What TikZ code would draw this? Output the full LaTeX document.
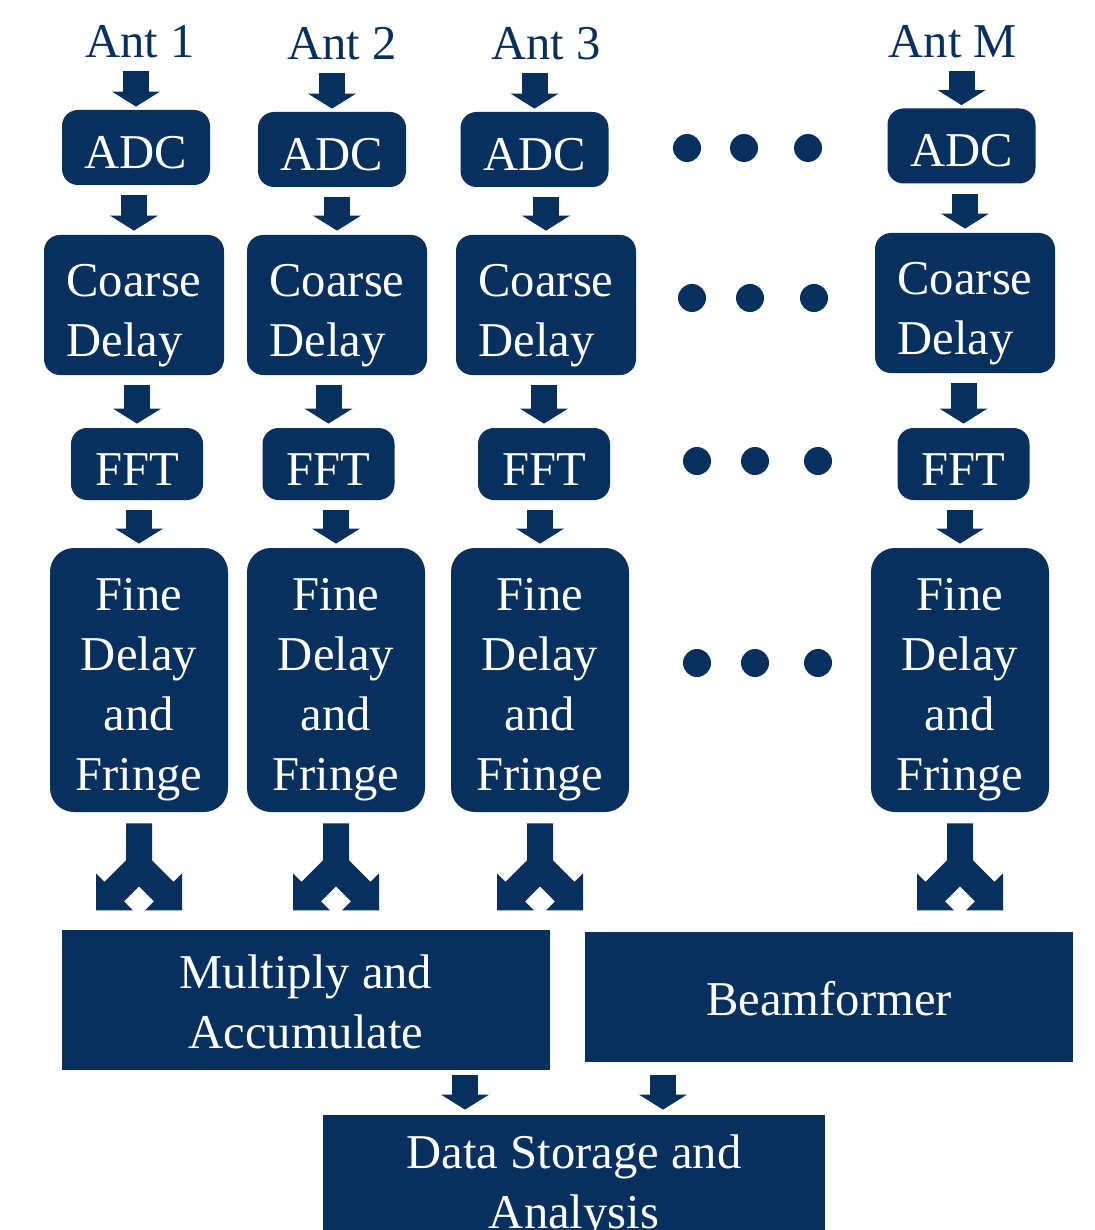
\documentclass[tikz,border=0pt]{standalone}
\usepackage{fontspec}
\setmainfont{Liberation Serif}
\usepackage{tikz}
\usetikzlibrary{arrows.meta,calc}
\definecolor{antblue}{HTML}{07305E}
\tikzset{split/.pic={\fill[antblue] (-13,0) -- (13,0) -- (13,37) -- (34.5,58.5) -- (43,50) -- (43,87) -- (6,87) -- (15,78) -- (0,63) -- (-15,78) -- (-6,87) -- (-43,87) -- (-43,50) -- (-34.5,58.5) -- (-13,37) -- cycle;}}

\begin{document}
\begin{tikzpicture}[x=0.5pt,y=-0.5pt,
    box/.style={fill=antblue,text=white,rounded corners=8pt,inner sep=0pt,text depth=0pt,font=\fontsize{24.3}{30}\selectfont,align=center},
    flat/.style={box,rounded corners=0pt,minimum width=244pt},
    adc/.style={box,text height=20.8pt,minimum width=74pt,minimum height=37.5pt},
    coarse/.style={box,align=left,text height=51.7pt,minimum width=90pt,minimum height=70pt},
    fft/.style={box,text height=21pt,minimum width=66pt,minimum height=36pt},
    fine/.style={box,text height=110pt,rounded corners=12pt,minimum width=89pt,minimum height=132pt},
    ant/.style={text=antblue,inner sep=0pt,font=\fontsize{24.3}{30}\selectfont},
    blk/.style={antblue,line width=13pt,-{Triangle[width=24pt,length=7.5pt,line width=0pt]},shorten <=5pt,shorten >=2pt}]
    \useasboundingbox (0,0) rectangle (1094,1230);
    \clip (0,0) rectangle (1094,1230);
		    % antennas
		    \node[ant] (t1) at (140,42) {Ant 1};
		    \node[ant] (t2) at (342,44) {Ant 2};
		    \node[ant] (t3) at (546,44) {Ant 3};
		    \node[ant] (tm) at (953,42) {Ant M};
		    % per antenna chain
		    \node[adc] (a1) at (136,147.5) {ADC};
		    \node[adc] (a2) at (332,149.5) {ADC};
		    \node[adc] (a3) at (534.5,149.5) {ADC};
		    \node[adc] (am) at (961.5,146) {ADC};
		    \node[coarse] (c1) at (134,305) {Coarse\\Delay};
		    \node[coarse] (c2) at (337,305) {Coarse\\Delay};
		    \node[coarse] (c3) at (546,305) {Coarse\\Delay};
		    \node[coarse] (cm) at (965,303) {Coarse\\Delay};
		    \node[fft] (f1) at (137,464) {FFT};
		    \node[fft] (f2) at (328.5,464) {FFT};
		    \node[fft] (f3) at (544,464) {FFT};
		    \node[fft] (fm) at (963.5,464) {FFT};
		    \node[fine] (d1) at (139,680) {Fine\\Delay\\and\\Fringe};
		    \node[fine] (d2) at (336,680) {Fine\\Delay\\and\\Fringe};
		    \node[fine] (d3) at (540,680) {Fine\\Delay\\and\\Fringe};
		    \node[fine] (dm) at (960,680) {Fine\\Delay\\and\\Fringe};
		    % correlator and beamformer
		    \node[flat,text height=48.3pt,minimum height=70pt] (mac) at (306,1000) {Multiply and\\Accumulate};
		    \node[flat,text height=18pt,minimum height=65pt] (beam) at (829,997) {Beamformer};
		    \node[flat,text height=38pt,minimum width=251pt,minimum height=75pt] (store) at (574,1190) {Data Storage and\\Analysis};
    \foreach \c in {1,2,3,m} {
      \draw[blk,shorten <=6pt,shorten >=1.5pt] (t\c.south -| a\c.north) -- (a\c.north);
      \draw[blk] (a\c.south -| c\c.north) -- (c\c.north);
      \draw[blk] (c\c.south -| f\c.north) -- (f\c.north);
      \draw[blk] (f\c.south -| d\c.north) -- (d\c.north);
      \pic at ([yshift=-5.5pt]d\c.south) {split};
    }
    \coordinate (lx) at (465,0);
    \coordinate (rx) at (663,0);
    \draw[blk,shorten <=2.5pt,shorten >=2.5pt] (mac.south -| lx) -- (store.north -| lx);
    \draw[blk,shorten <=6.5pt,shorten >=2.5pt] (beam.south -| rx) -- (store.north -| rx);
    % dots
    \foreach \x in {687,744,808} \fill[antblue] (\x,148) circle (7pt);
    \foreach \x in {692,750,814} \fill[antblue] (\x,298) circle (7pt);
    \foreach \x in {697,755,818} \fill[antblue] (\x,461) circle (7pt);
    \foreach \x in {697,755,818} \fill[antblue] (\x,663) circle (7pt);
\end{tikzpicture}
\end{document}
